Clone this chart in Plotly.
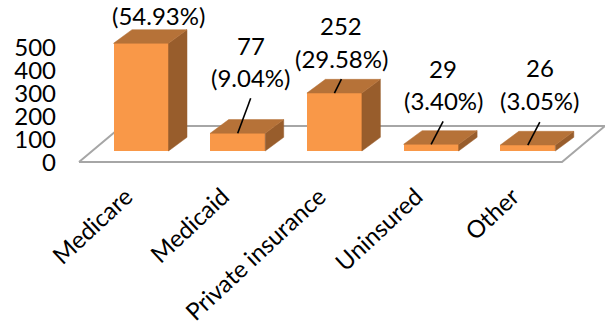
import plotly.graph_objects as go

categories = ["Medicare", "Medicaid", "Private insurance", "Uninsured", "Other"]
counts = [468, 77, 252, 29, 26]
percent_labels = ["(54.93%)", "(9.04%)", "(29.58%)", "(3.40%)", "(3.05%)"]
y_ticks = [0, 100, 200, 300, 400, 500]

FONT = "Lato"
FS = 24
W, H = 605, 326
L, B = 60, 156          # plot area margins
PX_X = 96.7             # px per category
PX_Y = 0.23             # px per unit
CX0 = 141               # px of first category
Y_AX0 = 162             # px of axis zero (floor front)
Y_BAR0 = 151            # px of bar base
plot_bottom = H - B
BAR_W = 55 / PX_X
DX = 18.5 / PX_X        # bar depth
DY = 13.7 / PX_Y

x_range = [(L - CX0) / PX_X, (W - CX0) / PX_X]
y_range = [(Y_AX0 - plot_bottom) / PX_Y, Y_AX0 / PX_Y]
y2_range = [(Y_BAR0 - plot_bottom) / PX_Y, Y_BAR0 / PX_Y]

FRONT, TOP, SIDE, GRID = "#F99848", "#B67238", "#985D2C", "#A6A6A6"

fig = go.Figure()

# floor, on the tick axis: zero sits on its front edge
fl_l, fl_r = (79 - CX0) / PX_X, (562 - CX0) / PX_X
fl_h = 36 / PX_Y
fl_dx = 43 / PX_X
fig.add_trace(go.Scatter(
    x=[fl_l, fl_r, fl_r + fl_dx, fl_l + fl_dx, fl_l],
    y=[0, 0, fl_h, fl_h, 0], mode="lines", fill="toself", fillcolor="white",
    line=dict(color=GRID, width=2), hoverinfo="skip", showlegend=False,
    cliponaxis=False, xaxis="x", yaxis="y"))

# front faces
xs = list(range(len(categories)))
fig.add_trace(go.Bar(x=xs, y=counts, width=BAR_W, marker=dict(color=FRONT, line_width=0),
                     showlegend=False, xaxis="x", yaxis="y2"))

# side and top faces derived from the values
for i, v in zip(xs, counts):
    xl, xr = i - BAR_W / 2, i + BAR_W / 2
    fig.add_trace(go.Scatter(
        x=[xr, xr + DX, xr + DX, xr, xr], y=[0, DY, v + DY, v, 0], mode="lines",
        fill="toself", fillcolor=SIDE, line=dict(color=SIDE, width=0.5),
        hoverinfo="skip", showlegend=False, xaxis="x", yaxis="y2"))
    fig.add_trace(go.Scatter(
        x=[xl, xr, xr + DX, xl + DX, xl], y=[v, v, v + DY, v + DY, v], mode="lines",
        fill="toself", fillcolor=TOP, line=dict(color=TOP, width=0.5),
        hoverinfo="skip", showlegend=False, xaxis="x", yaxis="y2"))

# labels: pixel offsets from the front-top centre of each bar
label_dx = [17, 13, 7, 12, 12]
label_dy = [44, 72, 51, 60, 61]
LINE_GAP = 32.5
leader_from = [None, (13, 35), (7, 14), (12, 23), (12, 23)]

for i, v, c, p, dx, dy, lead in zip(xs, counts, counts, percent_labels, label_dx, label_dy, leader_from):
    fig.add_annotation(x=i, y=v, xref="x", yref="y2", text=str(c), showarrow=False,
                       xshift=dx, yshift=dy + LINE_GAP / 2, font=dict(family=FONT, size=FS, color="black"))
    fig.add_annotation(x=i, y=v, xref="x", yref="y2", text=p, showarrow=False,
                       xshift=dx, yshift=dy - LINE_GAP / 2, font=dict(family=FONT, size=FS, color="black"))
    if lead:
        fig.add_trace(go.Scatter(
            x=[i, i + lead[0] / PX_X], y=[v, v + lead[1] / PX_Y], mode="lines",
            line=dict(color="black", width=1.6), hoverinfo="skip", showlegend=False,
            xaxis="x", yaxis="y2"))

fig.update_layout(
    width=W, height=H, margin=dict(l=L, r=0, t=0, b=B),
    paper_bgcolor="white", plot_bgcolor="rgba(0,0,0,0)", showlegend=False, bargap=0,
    xaxis=dict(range=x_range, tickmode="array", tickvals=xs, ticktext=categories,
               tickangle=-43, ticks="", showline=False, showgrid=False, zeroline=False,
               ticklabelstandoff=7, ticklabelshift=-15, tickfont=dict(family=FONT, size=FS, color="black"),
               automargin=False),
    yaxis=dict(range=y_range, tickmode="array", tickvals=y_ticks, ticks="", showline=False,
               showgrid=False, zeroline=False, automargin=False, ticklabelstandoff=3, ticklabelshift=1,
               tickfont=dict(family=FONT, size=FS, color="black")),
    yaxis2=dict(range=y2_range, overlaying="y", side="left", visible=False),
)
fig.write_html("out.html", config={"displayModeBar": False},
               post_script="document.body.style.margin='0';document.body.style.overflow='hidden';")
